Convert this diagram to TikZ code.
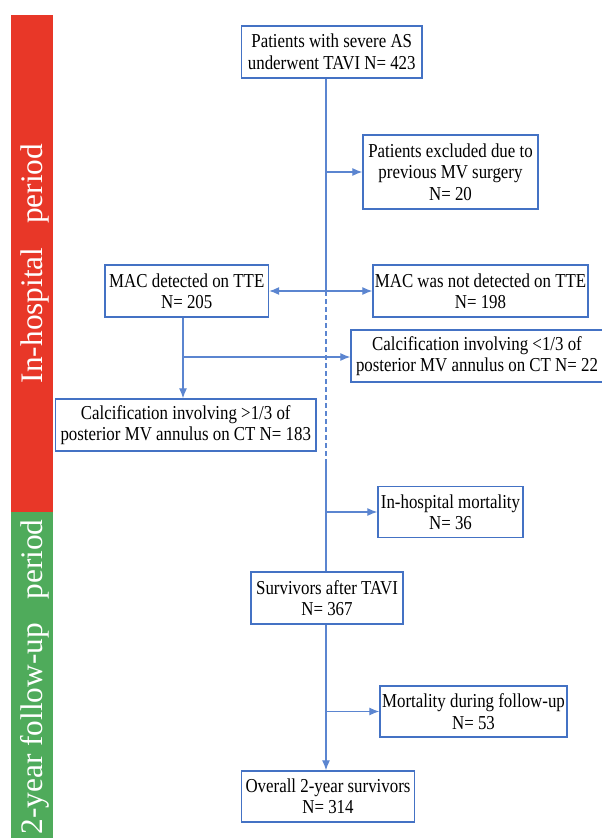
\documentclass[tikz,border=0pt]{standalone}
\usepackage{fontspec}
\setmainfont{Liberation Serif}
\newfontfamily\boxfont{Liberation Serif}[FakeStretch=0.855]
\usetikzlibrary{arrows.meta, positioning}
\usepackage{xcolor}
\definecolor{boxblue}{HTML}{4472C4}
\definecolor{linkblue}{HTML}{5B85D0}
\definecolor{hospred}{HTML}{E83728}
\definecolor{fupgreen}{HTML}{4FAB5B}

\begin{document}
\begin{tikzpicture}[
x=0.75pt, y=-0.75pt,
>={Latex[length=7.5pt,width=6pt]},
box/.style={draw=boxblue,
line width=1.1pt,
rectangle,
inner sep=1pt,
minimum height=39pt,
align=center,
font=\boxfont\fontsize{14.8}{16.1}\selectfont},
link/.style={draw=linkblue, line width=0.8pt},
arrow/.style={link, ->},
twoway/.style={link, <->},
bar/.style={rotate=90, anchor=base, text=white, font=\fontsize{23.5}{26}\selectfont}
]
\useasboundingbox (0,0) rectangle (601,838);

% period bars
\fill[hospred] (11,15) rectangle (53,512);
\fill[fupgreen] (11,512) rectangle (53,838);
\node[bar] (hosp) at (42,263.5) {In-hospital~~~period};
\node[bar] (fup) at (42,677) {2-year follow-up~~~period};

\node[box, minimum width=135.4pt] (top) at (331.75,52) {Patients with severe AS\\underwent TAVI N= 423};
\node[box, minimum width=131.25pt, minimum height=55.5pt] (excl) at (450.5,172) {Patients excluded due to\\previous MV surgery\\N= 20};
\node[box, minimum width=122.6pt] (mac) at (186.75,291) {MAC detected on TTE\\N= 205};
\node[box, minimum width=161.25pt] (nomac) at (480.5,291) {MAC was not detected on TTE\\N= 198};
\node[box, minimum width=189pt] (low) at (477,356) {Calcification involving <1/3 of\\posterior MV annulus on CT N= 22};
\node[box, minimum width=195.4pt] (high) at (185.75,425) {Calcification involving >1/3 of\\posterior MV annulus on CT N= 183};
\node[box, minimum width=108.75pt, minimum height=38.25pt] (ihm) at (450.5,512) {In-hospital mortality\\N= 36};
\node[box, minimum width=114pt] (surv) at (327,598) {Survivors after TAVI\\N= 367};
\node[box, minimum width=140.25pt, minimum height=38.25pt] (mfu) at (473.5,711.5) {Mortality during follow-up\\N= 53};
\node[box, minimum width=129.75pt, minimum height=38.25pt] (overall) at (328,796.5) {Overall 2-year survivors\\N= 314};

\coordinate (spine) at (326,0);
\coordinate (cut) at (326,460);
\coordinate (branch) at (183,357);

% main line
\draw[link] (top.south -| spine) -- (spine |- mac.east);
\draw[link, dash pattern=on 3.75pt off 2.25pt] (spine |- mac.east) -- (cut);
\draw[link] (cut) -- (surv.north -| spine);
\draw[arrow] (spine |- excl.west) -- (excl.west);
\draw[arrow] (spine |- ihm.west) -- (ihm.west);

% MAC split
\draw[twoway] (mac.east) -- (nomac.west);
\draw[arrow] (mac.south -| branch) -- (high.north -| branch);
\draw[arrow] (branch) -- (branch -| low.west);

% follow-up
\draw[arrow] (surv.south -| spine) -- (overall.north -| spine);
\draw[arrow] (spine |- mfu.west) -- (mfu.west);

\end{tikzpicture}
\end{document}
